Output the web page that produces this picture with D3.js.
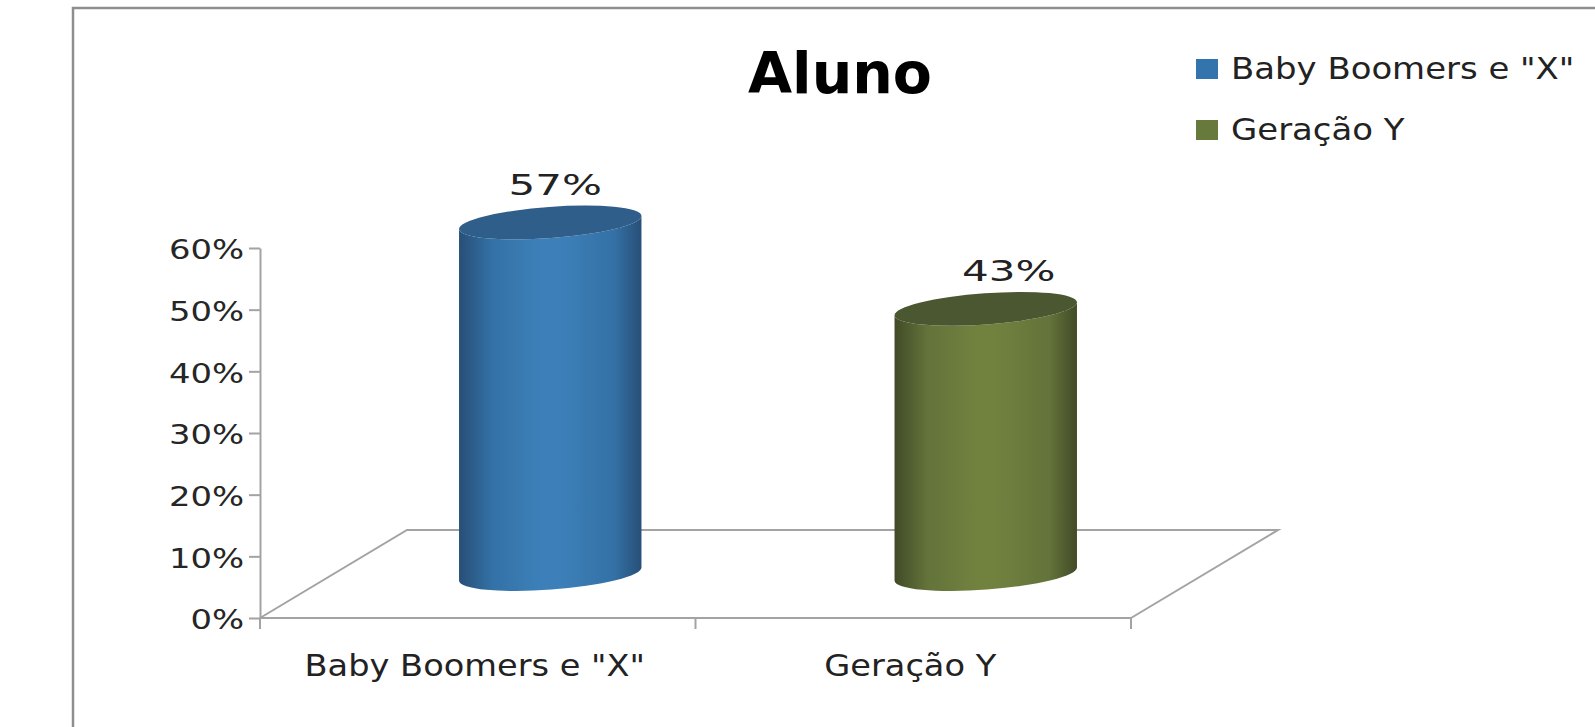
<!DOCTYPE html>
<html>
<head>
<meta charset="utf-8">
<script src="https://cdn.jsdelivr.net/npm/d3@7"></script>
<style>
  body { margin: 0; background: #fff; }
  svg text { font-family: "DejaVu Sans", sans-serif; }
</style>
</head>
<body>
<svg id="chart" width="1595" height="727"></svg>
<script>
// data
const categories = ['Baby Boomers e "X"', "Geração Y"];
const values = [0.57, 0.43];
const seriesColors = ["#3474ad", "#687a3b"];
const yTicks = [0, 0.1, 0.2, 0.3, 0.4, 0.5, 0.6];
const chartTitle = "Aluno";

// shading for the cylinders: [edge, mid, light, top]
const shades = [
  ["#284f77", "#3371a6", "#3d80b9", "#2f5e8a"],
  ["#414b27", "#63733a", "#71823f", "#4b5730"]
];

const svg = d3.select("svg#chart");
const axisColor = "#a3a3a3";

// frame around the chart (runs off the right and bottom edge)
svg.append("rect")
  .attr("x", 73).attr("y", 8)
  .attr("width", 1700).attr("height", 900)
  .attr("fill", "none")
  .attr("stroke", "#8e8e8e")
  .attr("stroke-width", 2.5);

const y = d3.scaleLinear().domain([0, 0.6]).range([618, 248]);
const x = d3.scaleBand().domain(categories).range([260, 1131]);

// 3d depth of the floor
const depthX = 147, depthY = -88;

function stretch(sel, k) {
  sel.each(function() {
    const w = this.getComputedTextLength();
    d3.select(this).attr("textLength", w * k).attr("lengthAdjust", "spacingAndGlyphs");
  });
}

// floor
const x0 = x.range()[0], x1 = x.range()[1], yb = y(0);
svg.append("path")
  .attr("d", `M${x0},${yb} L${x0 + depthX},${yb + depthY} L${x1 + depthX},${yb + depthY} L${x1},${yb}`)
  .attr("fill", "none")
  .attr("stroke", axisColor)
  .attr("stroke-width", 2);

// y axis
const leftAxis = d3.axisLeft(y)
  .tickValues(yTicks)
  .tickFormat(d3.format(".0%"))
  .tickSize(11)
  .tickSizeOuter(0)
  .tickPadding(5);

const yAxisG = svg.append("g")
  .attr("class", "y axis")
  .attr("transform", `translate(${x0},0)`)
  .call(leftAxis);
yAxisG.select(".domain").attr("stroke", axisColor).attr("stroke-width", 2);
yAxisG.selectAll(".tick line").attr("stroke", axisColor).attr("stroke-width", 2);
yAxisG.selectAll(".tick text")
  .attr("font-size", 26)
  .attr("font-family", "DejaVu Sans")
  .attr("fill", "#262626")
  .attr("dy", "0.42em")
  .call(stretch, 1.3);

// x axis line and ticks at band edges
const xEdges = categories.map(c => x(c)).concat([x1]);
svg.append("line")
  .attr("x1", x0).attr("x2", x1).attr("y1", yb).attr("y2", yb)
  .attr("stroke", axisColor).attr("stroke-width", 2);
svg.selectAll("line.xtick").data(xEdges)
  .join("line")
  .attr("class", "xtick")
  .attr("x1", d => d).attr("x2", d => d)
  .attr("y1", yb).attr("y2", yb + 11)
  .attr("stroke", axisColor).attr("stroke-width", 2);

svg.selectAll("text.xlabel").data(categories)
  .join("text")
  .attr("class", "xlabel")
  .attr("x", d => x(d) + x.bandwidth() / 2 - 3)
  .attr("y", 676)
  .attr("text-anchor", "middle")
  .attr("font-size", 30)
  .attr("fill", "#222")
  .text(d => d)
  .call(stretch, 1.12);

// cylinders
const defs = svg.append("defs");
shades.forEach((s, i) => {
  const g = defs.append("linearGradient")
    .attr("id", "cyl" + i)
    .attr("x1", "0%").attr("x2", "100%").attr("y1", "0%").attr("y2", "0%");
  [[0, s[0]], [0.18, s[1]], [0.45, s[2]], [0.55, s[2]], [0.85, s[1]], [1, s[0]]]
    .forEach(st => g.append("stop").attr("offset", st[0]).attr("stop-color", st[1]));
});

const rx = x.bandwidth() * 0.21;
const ry = 15.6;
const tilt = -4.2;
const ca = rx * Math.cos(tilt * Math.PI / 180);
const sb = rx * Math.sin(tilt * Math.PI / 180);

const bars = categories.map((c, i) => ({
  name: c,
  value: values[i],
  i: i,
  cx: x(c) + x.bandwidth() / 2 + depthX / 2 - 1,
  top: y(values[i]) + depthY / 2,
  base: y(0) + depthY / 2
}));

const cyl = svg.selectAll("g.cyl").data(bars).join("g").attr("class", "cyl");

cyl.append("path")
  .attr("d", d => `M${d.cx - ca},${d.top - sb} L${d.cx - ca},${d.base - sb}` +
    ` A${rx},${ry} ${tilt} 0 0 ${d.cx + ca},${d.base + sb}` +
    ` L${d.cx + ca},${d.top + sb}` +
    ` A${rx},${ry} ${tilt} 0 1 ${d.cx - ca},${d.top - sb} Z`)
  .attr("fill", d => `url(#cyl${d.i})`);

cyl.append("ellipse")
  .attr("cx", 0).attr("cy", 0)
  .attr("rx", rx).attr("ry", ry)
  .attr("transform", d => `translate(${d.cx},${d.top}) rotate(${tilt})`)
  .attr("fill", d => shades[d.i][3]);

// value labels
cyl.append("text")
  .attr("x", d => d.cx + 5 + d.i * 18)
  .attr("y", d => d.top - 28)
  .attr("text-anchor", "middle")
  .attr("font-size", 29)
  .attr("fill", "#222")
  .text(d => d3.format(".0%")(d.value))
  .call(stretch, 1.45);

// title
svg.append("text")
  .attr("x", 840).attr("y", 93)
  .attr("text-anchor", "middle")
  .attr("font-size", 57)
  .attr("font-weight", "bold")
  .attr("fill", "#000")
  .text(chartTitle);

// legend
const legend = svg.selectAll("g.legend").data(categories)
  .join("g")
  .attr("class", "legend")
  .attr("transform", (d, i) => `translate(1196,${59 + i * 61})`);
legend.append("rect")
  .attr("width", 22).attr("height", 20)
  .attr("fill", (d, i) => seriesColors[i]);
legend.append("text")
  .attr("x", 35).attr("y", 20)
  .attr("font-size", 30)
  .attr("fill", "#222")
  .text(d => d)
  .call(stretch, 1.13);
</script>
</body>
</html>
